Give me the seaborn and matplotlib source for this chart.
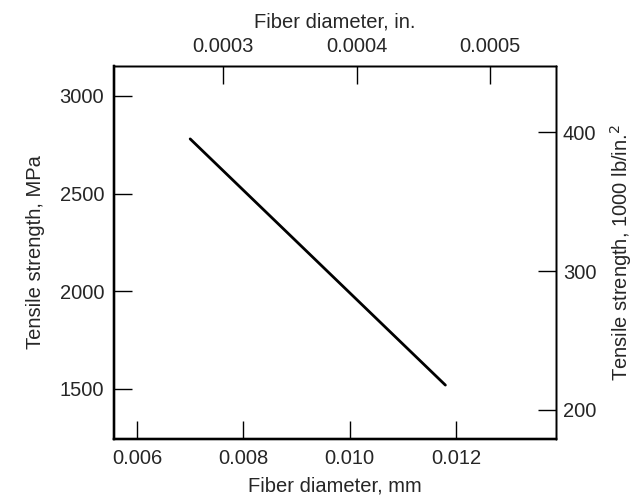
import matplotlib
matplotlib.use("Agg")
import matplotlib.pyplot as plt
import seaborn as sns
import pandas as pd

# Tensile strength versus fiber diameter (straight-line trend)
diameter_mm = [0.0070, 0.0118]
strength_mpa = [2780, 1520]

bottom_ticks = [0.006, 0.008, 0.010, 0.012]
bottom_labels = ["0.006", "0.008", "0.010", "0.012"]
left_ticks = [1500, 2000, 2500, 3000]
top_ticks = [0.0003, 0.0004, 0.0005]
top_labels = ["0.0003", "0.0004", "0.0005"]
right_ticks = [200, 300, 400]

sns.set_theme(style="white")
plt.rcParams["font.family"] = ["Liberation Sans", "DejaVu Sans"]
FS = 14.5

df = pd.DataFrame({"d": diameter_mm, "s": strength_mpa})

fig = plt.figure(figsize=(6.37, 4.99), dpi=100)
ax = fig.add_axes([0.179, 0.1202, 0.6938, 0.7475])

sns.lineplot(data=df, x="d", y="s", ax=ax, color="black", linewidth=2.0)

ax.set_xlim(0.005568, 0.01388)
ax.set_ylim(1244, 3153)
ax.set_xticks(bottom_ticks)
ax.set_xticklabels(bottom_labels)
ax.set_yticks(left_ticks)
ax.set_xlabel("Fiber diameter, mm", fontsize=FS, va="center")
ax.set_ylabel("Tensile strength, MPa", fontsize=FS, va="center")
ax.xaxis.set_label_coords(0.5, -0.127)
ax.yaxis.set_label_coords(-0.178, 0.5)
ax.tick_params(axis="both", direction="in", length=13, width=1.0,
               color="black", labelsize=FS, pad=7,
               top=False, right=False, left=True, bottom=True)

# English-unit axes on the top and right
axr = ax.twinx()
axr.set_ylim(179.1, 447.5)
axr.set_yticks(right_ticks)
axr.set_ylabel("Tensile strength, 1000 lb/in.$^2$", fontsize=FS, va="center")
axr.yaxis.set_label_coords(1.148, 0.5)
axr.tick_params(axis="y", direction="in", length=13, width=1.0,
                color="black", labelsize=FS, pad=5, right=True, left=False)

axt = ax.twiny()
axt.set_xlim(0.000218, 0.0005496)
axt.set_xticks(top_ticks)
axt.set_xticklabels(top_labels)
axt.set_xlabel("Fiber diameter, in.", fontsize=FS, va="center")
axt.xaxis.set_label_coords(0.5, 1.118)
axt.tick_params(axis="x", direction="in", length=13, width=1.0,
                color="black", labelsize=FS, pad=7, top=True, bottom=False)

for a in (ax, axr, axt):
    for name, sp in a.spines.items():
        sp.set_visible(True)
        sp.set_color("black")
        if name in ("left", "bottom"):
            sp.set_linewidth(1.6)
        else:
            sp.set_linewidth(1.0)

fig.savefig("out.png", dpi=100)
